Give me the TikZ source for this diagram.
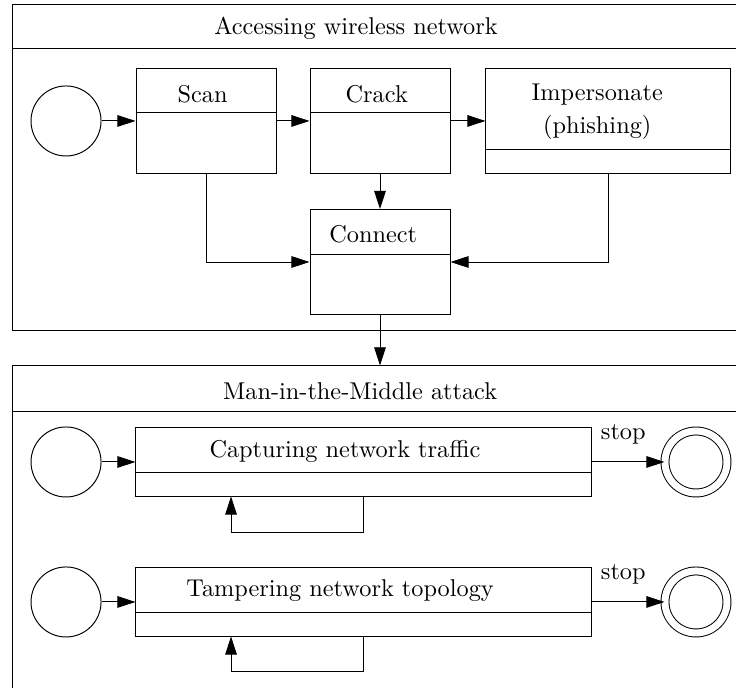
\documentclass[tikz,border=0pt]{standalone}
\usepackage{tikz}
\usetikzlibrary{positioning,arrows.meta,calc}

\begin{document}
\begin{tikzpicture}[
  lbl/.style={inner sep=1pt},
  grpbox/.style={draw, minimum width=10.726cm, inner sep=0pt},
  initst/.style={circle, draw, minimum size=1.013cm, inner sep=0pt},
  finalst/.style={circle, draw, double, double distance=2.87pt, minimum size=0.897cm, inner sep=0pt},
  actbox/.style={draw, inner sep=0pt},
  arr/.style={-{Triangle[length=7.5pt,width=4.8pt]}}
]
\clip (0,0) rectangle (10.647,-9.952);

% containers
\node[grpbox, minimum height=4.73cm] (grp1) at (5.537,-2.423) {};
\node[grpbox, minimum height=5.006cm] (grp2) at (5.537,-7.797) {};
\draw ([yshift=-0.651cm]grp1.north west) -- ([yshift=-0.651cm]grp1.north east);
\draw ([yshift=-0.666cm]grp2.north west) -- ([yshift=-0.666cm]grp2.north east);
\node[lbl] (grp1t) at (5.15,-0.405) {Accessing wireless network};
\node[lbl] (grp2t) at (5.21,-5.656) {Man-in-the-Middle attack};

% wireless part
\node[initst] (ini1) at (0.955,-1.750) {};
\node[actbox, minimum width=2.025cm, minimum height=1.519cm] (scan) at (2.980,-1.750) {};
\node[actbox, minimum width=2.025cm, minimum height=1.519cm] (crack) at (5.497,-1.750) {};
\node[actbox, minimum width=3.544cm, minimum height=1.519cm] (imp) at (8.802,-1.750) {};
\node[actbox, minimum width=2.025cm, minimum height=1.519cm] (conn) at (5.497,-3.790) {};
\draw ([yshift=-0.651cm]scan.north west) -- ([yshift=-0.651cm]scan.north east);
\draw ([yshift=-0.651cm]crack.north west) -- ([yshift=-0.651cm]crack.north east);
\draw ([yshift=-1.172cm]imp.north west) -- ([yshift=-1.172cm]imp.north east);
\draw ([yshift=-0.665cm]conn.north west) -- ([yshift=-0.665cm]conn.north east);
\node[lbl] (scant) at (2.93,-1.360) {Scan};
\node[lbl] (crackt) at (5.45,-1.360) {Crack};
\node[lbl, align=center] (impt) at (8.64,-1.613) {Impersonate\\[1.5pt](phishing)};
\node[lbl] (connt) at (5.40,-3.385) {Connect};

\draw[arr] (ini1) -- (scan);
\draw[arr] (scan) -- (crack);
\draw[arr] (crack) -- (imp);
\draw[arr] (crack) -- (conn);
\draw[arr] (scan.south) |- (conn.west);
\draw[arr] (imp.south) |- (conn.east);
\draw[arr] (conn.south) -- (conn.south |- grp2.north);

% mitm part
\node[initst] (ini2) at (0.955,-6.683) {};
\node[initst] (ini3) at (0.955,-8.708) {};
\node[actbox, minimum width=6.582cm, minimum height=0.998cm] (capt) at (5.258,-6.683) {};
\node[actbox, minimum width=6.582cm, minimum height=0.998cm] (tamp) at (5.258,-8.708) {};
\draw ([yshift=-0.651cm]capt.north west) -- ([yshift=-0.651cm]capt.north east);
\draw ([yshift=-0.651cm]tamp.north west) -- ([yshift=-0.651cm]tamp.north east);
\node[lbl] (captt) at (4.99,-6.524) {Capturing network traffic};
\node[lbl] (tampt) at (4.92,-8.549) {Tampering network topology};
\node[finalst] (fin1) at (10.068,-6.683) {};
\node[finalst] (fin2) at (10.068,-8.708) {};
\coordinate (capin) at (3.342,-7.182);
\coordinate (tampin) at (3.342,-9.207);

\draw[arr] (ini2) -- (capt);
\draw[arr] (ini3) -- (tamp);
\draw[arr] (capt) -- node[lbl, anchor=south west, pos=0, xshift=0.095cm, yshift=0.21cm] {stop} (fin1);
\draw[arr] (tamp) -- node[lbl, anchor=south west, pos=0, xshift=0.095cm, yshift=0.21cm] {stop} (fin2);
\draw[arr] (capt.south) -- ++(0,-0.521) -| (capin);
\draw[arr] (tamp.south) -- ++(0,-0.506) -| (tampin);

\end{tikzpicture}
\end{document}
